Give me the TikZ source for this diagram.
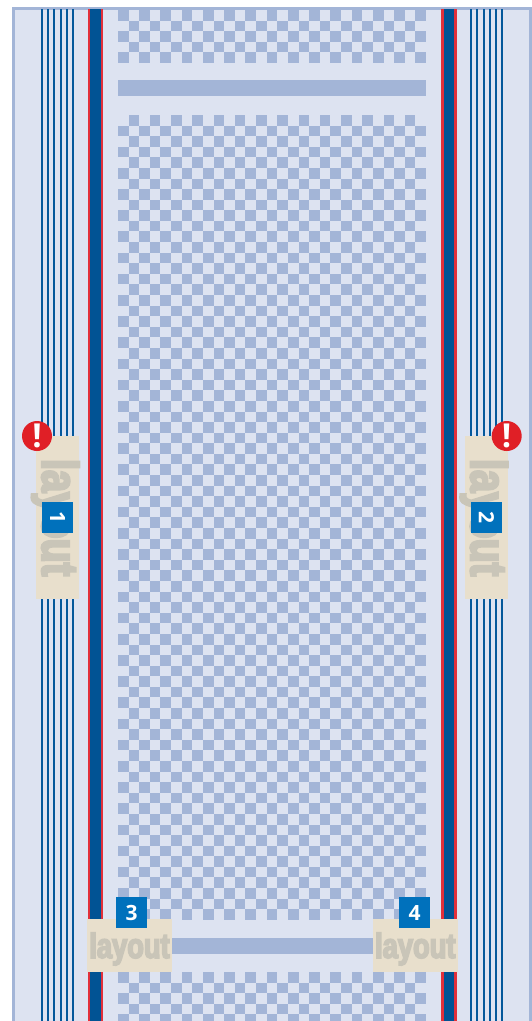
\documentclass[tikz,border=0pt]{standalone}
\usepackage{fontspec}
\setmainfont{Liberation Sans}
\newfontfamily\layoutfont[FakeStretch=.78,FakeBold=4.5]{Liberation Sans Bold}
\newfontfamily\numberfont{Open Sans Bold}
\usepackage{tikz}
\usetikzlibrary{positioning}
\definecolor{roadbg}{HTML}{DDE3F1}
\definecolor{tile}{HTML}{A3B5D7}
\definecolor{laneblue}{HTML}{04589B}
\definecolor{roadblue}{HTML}{015394}
\definecolor{roadred}{HTML}{E2303A}
\definecolor{layoutbg}{HTML}{E8DFCC}
\definecolor{layouttext}{HTML}{C9C5B8}
\definecolor{badgeblue}{HTML}{0071BC}
\definecolor{alertred}{HTML}{E01F26}

\begin{document}
\begin{tikzpicture}[x=1pt, y=-1pt,
        layoutbox/.style={rectangle, fill=layoutbg, text=layouttext, inner sep=0pt, text depth=0pt},
        sidebox/.style={layoutbox, minimum width=163, rotate=-90, text height=31pt, font=\layoutfont\fontsize{51}{51}\selectfont},
        footbox/.style={layoutbox, minimum width=85, minimum height=53, text height=25pt, font=\layoutfont\fontsize{35}{35}\selectfont},
        badge/.style={rectangle, fill=badgeblue, text=white, minimum size=31, inner sep=0pt, font=\numberfont\fontsize{21}{21}\selectfont},
        alert/.style={circle, fill=alertred, text=white, minimum size=30, inner sep=0pt, font=\numberfont\fontsize{33}{33}\selectfont},
        lane/.style={fill=laneblue},
        tilefill/.style={fill=tile}]

        \useasboundingbox (0,0) rectangle (532,1021);

        % Frame
        \fill[tile] (12,7) rectangle (532,1021);
        \fill[roadbg] (15,10) rectangle (529,1021);

        % Lane lines
        \foreach \lx in {41,47,53,59.5,65.5,72,470,476,482.7,488.7,495,501.3}
            \fill[lane] (\lx,9) rectangle (\lx+2,1021);

        % Road edges
        \foreach \rx in {87.7,441} {
            \fill[roadred] (\rx,9) rectangle (\rx+15.7,1021);
            \fill[roadblue] (\rx+2.5,9) rectangle (\rx+13,1021);
        }

        % Tiles
        \foreach \row in {0,...,4}
            \foreach \col in {0,...,28} {
                \pgfmathparse{int(mod(\row+\col,2))}
                \ifnum\pgfmathresult=0
                    \fill[tilefill] (118+\col*10.62,10+\row*10.6) rectangle ++(10.62,10.6);
                \fi
            }
        \foreach \row in {0,...,75}
            \foreach \col in {0,...,28} {
                \pgfmathparse{int(mod(\row+\col,2))}
                \ifnum\pgfmathresult=1
                    \fill[tilefill] (118+\col*10.62,115+\row*10.59) rectangle ++(10.62,10.59);
                \fi
            }
        \begin{scope}
            \clip (118,972) rectangle (427,1021);
            \foreach \row in {0,...,4}
                \foreach \col in {0,...,28} {
                    \pgfmathparse{int(mod(\row+\col,2))}
                    \ifnum\pgfmathresult=0
                        \fill[tilefill] (118+\col*10.62,972+\row*10.6) rectangle ++(10.62,10.6);
                    \fi
                }
        \end{scope}

        % Bands
        \fill[tilefill] (118,80) rectangle (426,96);
        \fill[tilefill] (118,938) rectangle (426,954);

        % Layout boxes
        \node[sidebox, minimum height=43.3] (layoutA) at (57.65,517.5) {layout};
        \node[sidebox, minimum height=42.7] (layoutB) at (486.35,517.5) {layout};
        \node[footbox] (layoutC) at (129.5,945.5) {layout};
        \node[footbox] (layoutD) at (415.3,945.5) {layout};

        % Badges
        \node[badge, rotate=-90] (badgeA) at (57.5,517.5) {1};
        \node[badge, rotate=-90] (badgeB) at (486.5,517.5) {2};
        \node[badge] (badgeC) at (131.5,912.5) {3};
        \node[badge] (badgeD) at (414.5,912.5) {4};

        % Alerts
        \node[alert] (alertA) at (37,436) {!};
        \node[alert] (alertB) at (506.7,436) {!};

    \end{tikzpicture}
\end{document}
